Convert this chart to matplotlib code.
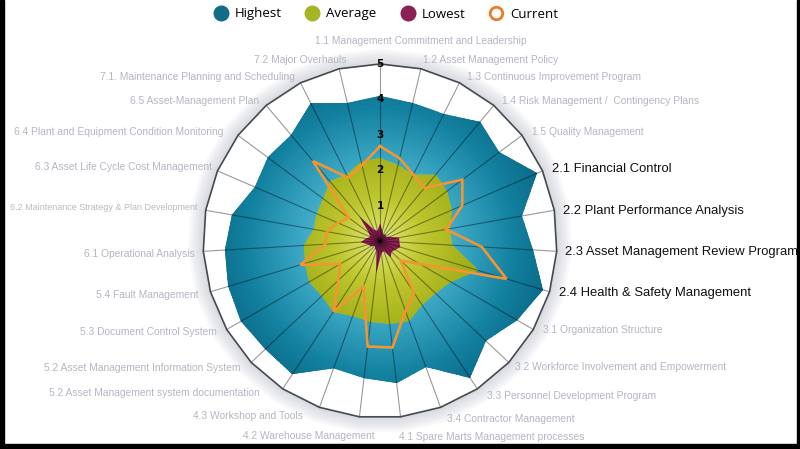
import numpy as np
import matplotlib
matplotlib.use("Agg")
import matplotlib.pyplot as plt
from matplotlib.colors import LinearSegmentedColormap
from matplotlib.lines import Line2D
from matplotlib.patches import Rectangle

categories = [
    "1.1 Management Commitment and Leadership",
    "1.2 Asset Management Policy",
    "1.3 Continuous Improvement Program",
    "1.4 Risk Management /  Contingency Plans",
    "1.5 Quality Management",
    "2.1 Financial Control",
    "2.2 Plant Performance Analysis",
    "2.3 Asset Management Review Program",
    "2.4 Health & Safety Management",
    "3.1 Organization Structure",
    "3.2 Workforce Involvement and Empowerment",
    "3.3 Personnel Development Program",
    "3.4 Contractor Management",
    "4.1 Spare Marts Management processes",
    "4.2 Warehouse Management",
    "4.3 Workshop and Tools",
    "5.2 Asset Management system documentation",
    "5.2 Asset Management Information System",
    "5.3 Document Control System",
    "5.4 Fault Management",
    "6.1 Operational Analysis",
    "6.2 Maintenance Strategy & Plan Development",
    "6.3 Asset Life Cycle Cost Management",
    "6.4 Plant and Equipment Condition Monitoring",
    "6.5 Asset-Management Plan",
    "7.1. Maintenance Planning and Scheduling",
    "7.2 Major Overhauls",
]

highest = [4.1, 4.0, 4.0, 4.4, 4.2, 4.82, 4.06, 4.33, 4.8, 4.48, 4.1, 4.62, 3.78, 4.04,
           3.9, 3.83, 4.5, 4.45, 4.54, 4.47, 4.39, 4.25, 3.85, 3.95, 3.9, 4.36, 4.0]
average = [2.35, 2.2, 2.1, 2.45, 2.35, 2.2, 2.0, 2.05, 2.9, 2.3, 2.15, 2.15, 2.4, 2.35,
           2.3, 2.25, 2.4, 2.25, 2.3, 2.2, 2.15, 1.9, 1.95, 2.0, 2.2, 2.1, 2.3]
lowest = [0.5, 0.3, 0.2, 0.25, 0.2, 0.3, 0.55, 0.55, 0.6, 0.5, 0.45, 0.55, 0.3, 0.35,
          0.92, 0.3, 0.25, 0.2, 0.3, 0.35, 0.55, 0.4, 0.3, 0.4, 0.9, 0.35, 0.3]
current = [2.68, 2.4, 2.1, 1.95, 2.9, 2.53, 1.9, 2.88, 3.73, 1.3, 0.8, 1.75, 2.1, 3.03,
           3.0, 1.37, 2.38, 1.62, 1.3, 2.35, 1.55, 1.52, 1.3, 1.1, 2.95, 2.0, 2.2]
levels = [1, 2, 3, 4, 5]

# highlighted labels are drawn bigger and black
highlighted = {"2.1", "2.2", "2.3", "2.4"}

# label anchors in pixels (x, y, ha)
label_layout = [
    (315, 41, "left"), (423, 60, "left"), (467, 77, "left"), (502, 101, "left"),
    (532, 132, "left"), (552, 169, "left"), (563, 211, "left"), (565, 252, "left"),
    (559, 293, "left"), (543, 330, "left"), (515, 367, "left"), (487, 396, "left"),
    (447, 419, "left"), (399, 437, "left"), (375, 436, "right"), (303, 416, "right"),
    (260, 393, "right"), (240, 368, "right"), (217, 332, "right"), (199, 295, "right"),
    (195, 254, "right"), (198, 207, "right"), (212, 167, "right"), (223, 132, "right"),
    (259, 101, "right"), (295, 77, "right"), (347, 60, "right"),
]

W, H = 800, 449
cx, cy = 380, 241
unit = 35.4
rmax = 5.8

fig = plt.figure(figsize=(8, 4.49), dpi=100)
fig.patch.set_facecolor("white")
half = rmax * unit
ax = fig.add_axes([(cx - half) / W, (H - cy - half) / H, 2 * half / W, 2 * half / H],
                  projection="polar")
ax.set_theta_zero_location("N")
ax.set_theta_direction(-1)
ax.set_ylim(0, rmax)
ax.grid(False)
ax.spines["polar"].set_visible(False)
ax.set_xticks([])
ax.set_yticks([])
ax.patch.set_alpha(0)

n = len(categories)
angles = np.linspace(0, 2 * np.pi, n, endpoint=False)
ang_c = np.append(angles, angles[0])


def closed(vals):
    return np.append(vals, vals[0])


# soft shadow around the frame
for r in np.linspace(5.45, 5.0, 12):
    ax.fill(ang_c, [r] * (n + 1), color="#7a8499", alpha=0.028, lw=0, zorder=0.5)
ax.fill(ang_c, [5] * (n + 1), color="white", lw=0, zorder=1)

theta_g = np.linspace(0, 2 * np.pi, 241)
r_g = np.linspace(0, 5, 80)
TT, RR = np.meshgrid(theta_g, r_g)
Cg = RR[:-1, :-1]

teal_cmap = LinearSegmentedColormap.from_list(
    "teal", [(0, "#8fd6e6"), (0.45, "#3aa6c3"), (0.75, "#12819f"), (1, "#0a6585")])
olive_cmap = LinearSegmentedColormap.from_list(
    "olive", [(0, "#e6ea9a"), (0.2, "#d3da55"), (0.5, "#bcc52c"), (1, "#a3af18")])

# Highest
hp = ax.fill(ang_c, closed(highest), color="#0f7896", lw=0, zorder=2)[0]
m = ax.pcolormesh(TT, RR, Cg, cmap=teal_cmap, vmin=0, vmax=5, shading="flat",
                  zorder=2.1, antialiased=False, linewidth=0)
m.set_clip_path(hp)

# Average
ap = ax.fill(ang_c, closed(average), color="#b5bf26", lw=0, zorder=3)[0]
m2 = ax.pcolormesh(TT, RR, Cg, cmap=olive_cmap, vmin=0, vmax=2.5, shading="flat",
                   zorder=3.1, antialiased=False, linewidth=0)
m2.set_clip_path(ap)

# Lowest
ax.fill(ang_c, closed(lowest), color="#8c1f54", lw=0, zorder=4)

# spokes
for a in angles:
    ax.plot([a, a], [0, 5], color="black", alpha=0.4, lw=0.8, zorder=5)

# Current
ax.plot(ang_c, closed(current), color="#f29532", lw=1.9, zorder=6,
        solid_joinstyle="miter")

# outer ring
ax.plot(ang_c, [5] * (n + 1), color="#444a52", lw=1.2, zorder=6, clip_on=False)

for v in levels:
    ax.text(0, v, str(v), ha="center", va="center", fontsize=7.5, fontweight="bold",
            color="black", zorder=7, family="DejaVu Sans")

# category labels
for name, (px, py, ha) in zip(categories, label_layout):
    code = name.split(" ")[0]
    if code in highlighted:
        fs, col = 9.35, "#111111"
    elif code == "6.2":
        fs, col = 6.5, "#b6bac3"
    else:
        fs, col = 7.4, "#b3b7c1"
    fig.text(px / W, 1 - py / H, name, ha=ha, va="center", fontsize=fs, color=col,
             family="Liberation Sans")

# legend
handles = [
    Line2D([], [], ls="", marker="o", ms=10.5, mfc="#136b8a", mec="#136b8a"),
    Line2D([], [], ls="", marker="o", ms=10.5, mfc="#a6b623", mec="#a6b623"),
    Line2D([], [], ls="", marker="o", ms=10.5, mfc="#8c1f54", mec="#8c1f54"),
    Line2D([], [], ls="", marker="o", ms=9, mfc="white", mec="#ee7a22", mew=2),
]
fig.legend(handles, ["Highest", "Average", "Lowest", "Current"], loc="center",
           bbox_to_anchor=(386 / W, 1 - 14 / H), ncol=4, frameon=False,
           prop={"family": "Open Sans", "size": 9.5}, handlelength=1.0,
           handletextpad=0.55, columnspacing=1.85)

# dark border of the screenshot
fig.patches.append(Rectangle((0, 0), 4 / W, 1, transform=fig.transFigure,
                             color="black", zorder=10))
fig.patches.append(Rectangle((1 - 3 / W, 0), 3 / W, 1, transform=fig.transFigure,
                             color="black", zorder=10))
fig.patches.append(Rectangle((0, 0), 1, 5 / H, transform=fig.transFigure,
                             color="black", zorder=10))

fig.savefig("out.png", dpi=100)
